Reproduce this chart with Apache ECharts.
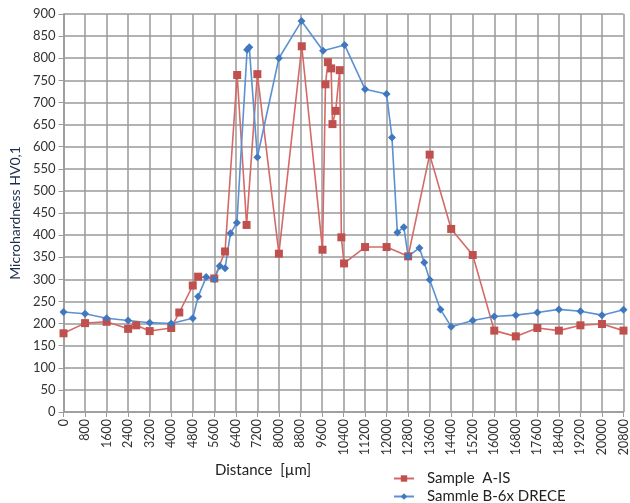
<!DOCTYPE html>
<html>
<head>
<meta charset="utf-8">
<script src="https://cdn.jsdelivr.net/npm/echarts@6/dist/echarts.min.js"></script>
<style>
  html, body { margin: 0; padding: 0; background: #fff; }
  #chart { width: 630px; height: 503px; }
</style>
</head>
<body>
<div id="chart"></div>
<script>
// Microhardness profiles across the specimen (distance in µm, hardness HV0,1)
const sampleADistance = [0, 800, 1600, 2400, 2700, 3200, 4000, 4300, 4800, 5000, 5600, 6000, 6450, 6800, 7200, 8000, 8850, 9620, 9730, 9820, 9940, 9990, 10110, 10260, 10320, 10420, 11200, 12000, 12800, 13600, 14400, 15200, 16000, 16800, 17600, 18400, 19200, 20000, 20800];
const sampleAHardness = [178, 201, 204, 188, 196, 183, 190, 225, 286, 306, 302, 363, 762, 423, 764, 358, 827, 367, 741, 791, 777, 651, 681, 773, 395, 336, 373, 373, 352, 582, 414, 355, 184, 171, 190, 184, 196, 199, 184];

const sampleBDistance = [0, 800, 1600, 2400, 3200, 4000, 4800, 5000, 5300, 5600, 5800, 6000, 6200, 6440, 6820, 6900, 7200, 8000, 8840, 9640, 10440, 11200, 12000, 12200, 12400, 12640, 12800, 13220, 13400, 13600, 14000, 14400, 15200, 16000, 16800, 17600, 18400, 19200, 20000, 20800];
const sampleBHardness = [226, 222, 212, 207, 202, 200, 212, 261, 305, 300, 330, 325, 404, 428, 819, 825, 576, 800, 884, 817, 830, 730, 719, 621, 406, 418, 352, 371, 338, 299, 232, 193, 207, 216, 219, 225, 232, 228, 219, 231];

const seriesNames = ['Sample  A-IS', 'Sammle B-6x DRECE'];
const xTitle = 'Distance  [\u00b5m]';
const yTitle = 'Microhardness HV0,1';

const zip = (xs, ys) => xs.map((x, i) => [x, ys[i]]);

const font = 'Lato, "Open Sans", sans-serif';
const gridLine = { color: '#9a9a9a', width: 1.5 };
const legendText = { fontFamily: font, fontSize: 15, color: '#222', padding: [0, 0, 0, 8] };

const chart = echarts.init(document.getElementById('chart'), null, { renderer: 'canvas' });
chart.setOption({
  animation: false,
  backgroundColor: '#ffffff',
  grid: { left: 61, right: 2, top: 14, bottom: 91, containLabel: false },
  // one legend block per series, stacked below the plot
  legend: [
    { left: 388, top: 466, itemWidth: 20, itemHeight: 8, textStyle: legendText, data: [seriesNames[0]] },
    { left: 388, top: 484, itemWidth: 20, itemHeight: 8, textStyle: legendText, data: [seriesNames[1]] }
  ],
  graphic: [{
    type: 'text',
    left: 215,
    top: 463,
    style: { text: xTitle, font: '15px ' + font, fill: '#222' }
  }],
  xAxis: {
    type: 'value',
    min: 0,
    max: 20800,
    interval: 800,
    axisLine: { show: true, lineStyle: { color: '#9a9a9a', width: 1.5 } },
    axisTick: { show: true, length: 5, lineStyle: { color: '#9a9a9a' } },
    axisLabel: {
      rotate: 90, margin: 7, fontFamily: font, fontSize: 12.5, color: '#333', showMaxLabel: true,
      formatter: (v) => String(v)
    },
    splitLine: { show: true, lineStyle: gridLine }
  },
  yAxis: {
    type: 'value',
    min: 0,
    max: 900,
    interval: 50,
    name: yTitle,
    nameLocation: 'middle',
    nameGap: 35,
    nameTextStyle: { fontFamily: font, fontSize: 14, color: '#1f2d4d' },
    axisLine: { show: true, lineStyle: { color: '#9a9a9a', width: 1.5 } },
    axisTick: { show: true, length: 5, lineStyle: { color: '#9a9a9a' } },
    axisLabel: { margin: 8, fontFamily: font, fontSize: 13, color: '#333' },
    splitLine: { show: true, lineStyle: gridLine }
  },
  series: [
    {
      name: seriesNames[0],
      type: 'line',
      data: zip(sampleADistance, sampleAHardness),
      symbol: 'rect',
      symbolSize: 8,
      itemStyle: { color: '#c0504d' },
      lineStyle: { color: '#d46a67', width: 1.6 },
      clip: false
    },
    {
      name: seriesNames[1],
      type: 'line',
      data: zip(sampleBDistance, sampleBHardness),
      symbol: 'diamond',
      symbolSize: 8,
      itemStyle: { color: '#3f78c0' },
      lineStyle: { color: '#5b91d2', width: 1.6 },
      clip: false
    }
  ]
});
</script>
</body>
</html>
